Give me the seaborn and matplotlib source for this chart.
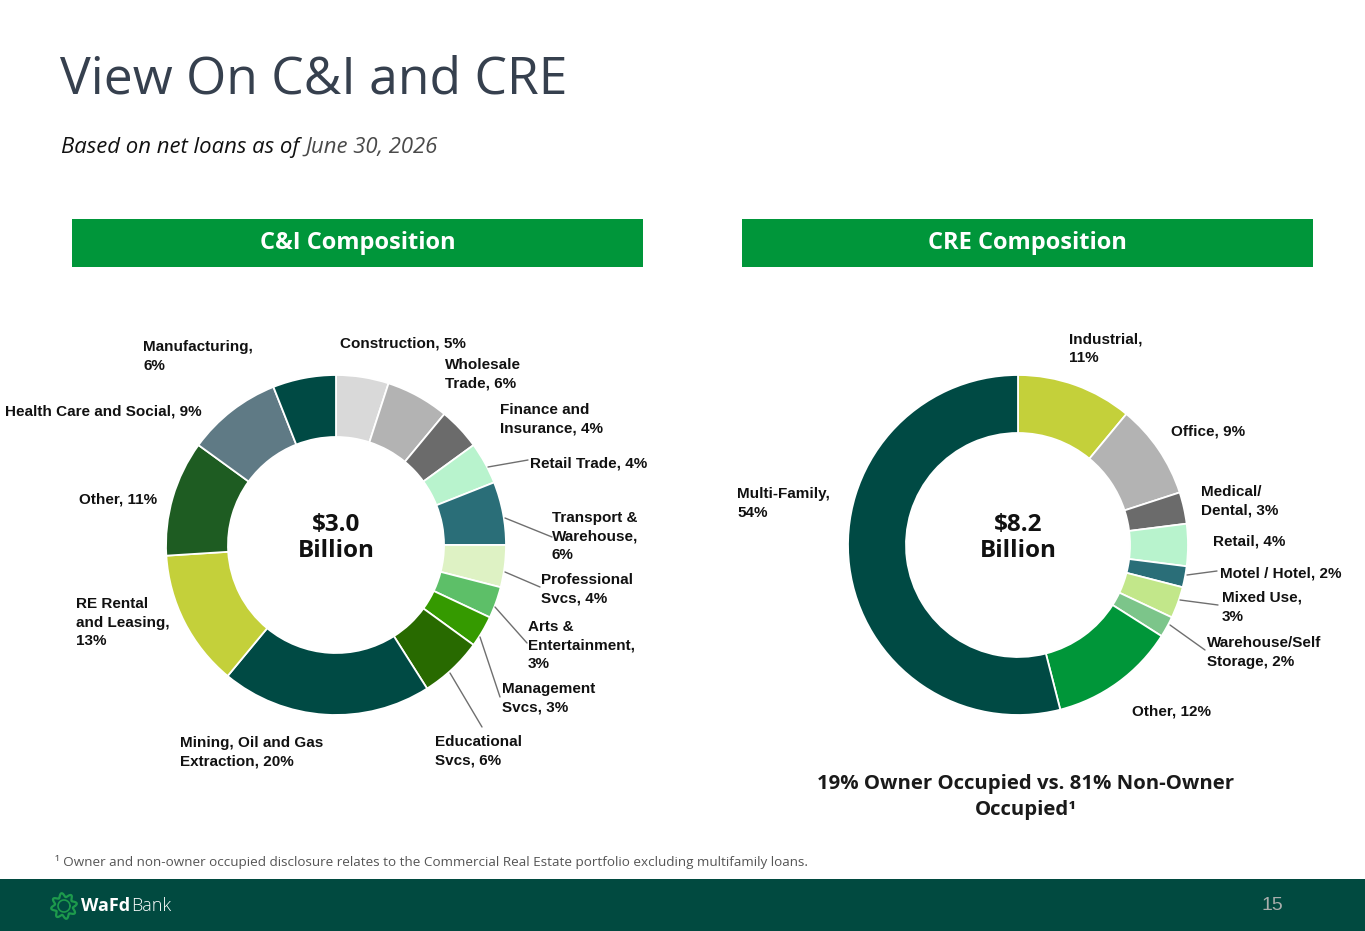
import matplotlib
matplotlib.use("Agg")
import matplotlib.pyplot as plt
import seaborn as sns
import numpy as np

# ---------------- data ----------------
ci_labels = ["Construction, 5%", "Wholesale\nTrade, 6%", "Finance and\nInsurance, 4%",
             "Retail Trade, 4%", "Transport &\nWarehouse,\n6%", "Professional\nSvcs, 4%",
             "Arts &\nEntertainment,\n3%", "Management\nSvcs, 3%", "Educational\nSvcs, 6%",
             "Mining, Oil and Gas\nExtraction, 20%", "RE Rental\nand Leasing,\n13%",
             "Other, 11%", "Health Care and Social, 9%", "Manufacturing,\n6%"]
ci_values = [5, 6, 4, 4, 6, 4, 3, 3, 6, 20, 13, 11, 9, 6]
ci_colors = ["#d9d9d9", "#b3b3b3", "#6b6b6b", "#b8f3cd", "#2a6e78", "#def2c4",
             "#5dbf68", "#359a00", "#286a00", "#004a44", "#c4d03a",
             "#1e5c22", "#5f7a85", "#004a44"]

cre_labels = ["Industrial,\n11%", "Office, 9%", "Medical/\nDental, 3%", "Retail, 4%",
              "Motel / Hotel, 2%", "Mixed Use,\n3%", "Warehouse/Self\nStorage, 2%",
              "Other, 12%", "Multi-Family,\n54%"]
cre_values = [11, 9, 3, 4, 2, 3, 2, 12, 54]
cre_colors = ["#c4d03a", "#b3b3b3", "#6b6b6b", "#b8f3cd", "#2a6e78", "#c2e78a",
              "#7cc58a", "#009639", "#004a44"]

ci_total = "$3.0\nBillion"
cre_total = "$8.2\nBillion"

# ---------------- layout (pixel positions) ----------------
W, H = 1365, 931
sns.set_theme(style="white")
plt.rcParams["font.family"] = ["Open Sans", "DejaVu Sans"]

fig = plt.figure(figsize=(W / 100, H / 100), dpi=100)
ax = fig.add_axes([0, 0, 1, 1])


def Y(py):
    return H - py


lab_font = dict(family=["Liberation Sans", "DejaVu Sans"], fontsize=11,
                fontweight="bold", color="#111111", linespacing=1.42)

# donuts
ax.pie(ci_values, colors=ci_colors, startangle=90, counterclock=False,
       center=(336, Y(545)), radius=170,
       wedgeprops=dict(width=62, edgecolor="white", linewidth=1.3))
ax.pie(cre_values, colors=cre_colors, startangle=90, counterclock=False,
       center=(1018, Y(545)), radius=170,
       wedgeprops=dict(width=58, edgecolor="white", linewidth=1.3))

ax.set_xlim(0, W)
ax.set_ylim(0, H)
ax.set_aspect("auto")
ax.axis("off")

# C&I label positions (left x, top y of first line)
ci_pos = [(340, 337), (445, 358), (500, 403), (530, 456), (552, 511), (541, 573),
          (528, 620), (502, 682), (435, 735), (180, 736), (76, 597), (79, 492),
          (5, 404), (143, 340)]
for lab, (px, py) in zip(ci_labels, ci_pos):
    ax.text(px, Y(py), lab, ha="left", va="top", **lab_font)

ci_leaders = [((488, 467), (528, 460)), ((505, 518), (552, 537)),
              ((505, 572), (540, 587)), ((495, 607), (527, 643)),
              ((480, 637), (500, 697)), ((450, 673), (482, 727))]
for (x0, y0), (x1, y1) in ci_leaders:
    ax.plot([x0, x1], [Y(y0), Y(y1)], color="#6f6f6f", lw=1.0)

cre_pos = [(1069, 332), (1171, 424), (1201, 485), (1213, 535), (1220, 566),
           (1222, 591), (1207, 636), (1132, 705), (737, 487)]
for lab, (px, py) in zip(cre_labels, cre_pos):
    ax.text(px, Y(py), lab, ha="left", va="top", **lab_font)

cre_leaders = [((1187, 575), (1217, 571)), ((1180, 600), (1218, 605)),
               ((1170, 625), (1205, 650))]
for (x0, y0), (x1, y1) in cre_leaders:
    ax.plot([x0, x1], [Y(y0), Y(y1)], color="#6f6f6f", lw=1.0)

# centre totals
for cx, txt in [(336, ci_total), (1018, cre_total)]:
    ax.text(cx, Y(538), txt, ha="center", va="center", fontsize=17.5,
            fontweight="bold", color="#111111", linespacing=1.15)

# title & subtitle
ax.text(60, Y(80), "View On C&I and CRE", ha="left", va="center",
        fontsize=37.2, color="#36404e")
t1 = ax.text(61, Y(147), "Based on net loans as of ", ha="left", va="center",
             fontsize=15.9, style="italic", color="#111111")
fig.canvas.draw()
bb = t1.get_window_extent()
ax.text(bb.x1, Y(147), "June 30, 2026", ha="left", va="center",
        fontsize=15.9, style="italic", color="#4a4a4a")

# header bars
for x0, x1, txt in [(72, 643, "C&I Composition"), (742, 1313, "CRE Composition")]:
    ax.add_patch(plt.Rectangle((x0, Y(267)), x1 - x0, 48, color="#00963a", lw=0))
    ax.text((x0 + x1) / 2, Y(243), txt, ha="center", va="center", fontsize=17,
            fontweight="bold", color="white")

# owner-occupied note
ax.text(1026, Y(797), "19% Owner Occupied vs. 81% Non-Owner\nOccupied¹",
        ha="center", va="center", fontsize=14.7, fontweight="bold",
        color="#1a1a1a", linespacing=1.38)

# footnote
ax.text(55, Y(862), "¹ Owner and non-owner occupied disclosure relates to the "
        "Commercial Real Estate portfolio excluding multifamily loans.",
        ha="left", va="center", fontsize=9.7, color="#555555")

# footer band
ax.add_patch(plt.Rectangle((0, 0), W, H - 879, color="#014a40", lw=0))
ax.text(1272, Y(906), "15", ha="center", va="center", fontsize=14,
        family=["Liberation Sans", "DejaVu Sans"], color="#a8adab")
# logo
th = np.linspace(0, 2 * np.pi, 200)
rr = 11 + 2.0 * np.sin(8 * th)
ax.plot(64 + rr * np.cos(th), Y(906) + rr * np.sin(th), color="#1d9a4c", lw=1.6)
ax.plot(64 + 6 * np.cos(th), Y(906) + 6 * np.sin(th), color="#1d9a4c", lw=1.2)
t_wafd = ax.text(81, Y(906), "WaFd", ha="left", va="center", fontsize=13,
                 fontweight="bold", color="white")
fig.canvas.draw()
wb = t_wafd.get_window_extent()
ax.text(wb.x1 + 1, Y(906), "Bank", ha="left", va="center", fontsize=13,
        fontweight="light", color="white")

fig.savefig("out.png", dpi=100)
